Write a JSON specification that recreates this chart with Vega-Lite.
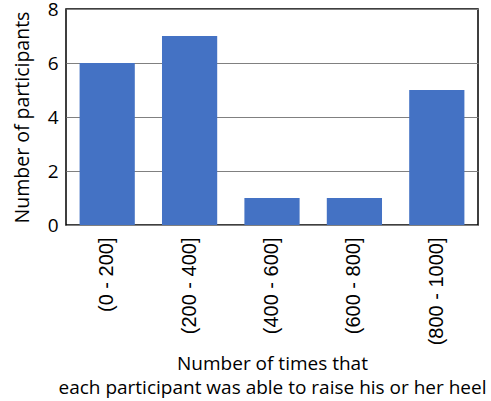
{
  "$schema": "https://vega.github.io/schema/vega-lite/v6.json",
  "autosize": {"type": "none"},
  "padding": {"left": 66, "top": 9, "right": 13, "bottom": 176},
  "width": 412,
  "height": 216,
  "background": "white",
  "config": {
    "view": {"stroke": "black", "strokeWidth": 1.5},
    "axis": {"labelColor": "black", "titleColor": "black", "titleFontWeight": "normal"}
  },
  "data": {
    "values": [
      {"range": "(0 - 200]", "count": 6},
      {"range": "(200 - 400]", "count": 7},
      {"range": "(400 - 600]", "count": 1},
      {"range": "(600 - 800]", "count": 1},
      {"range": "(800 - 1000]", "count": 5}
    ]
  },
  "mark": {"type": "bar", "color": "#4472C4"},
  "encoding": {
    "x": {
      "field": "range",
      "type": "nominal",
      "sort": null,
      "scale": {"paddingInner": 0.33, "paddingOuter": 0.165},
      "axis": {
        "title": ["Number of times that", "each participant was able to raise his or her heel"],
        "titleFont": "Open Sans",
        "titleFontSize": 19,
        "titleLineHeight": 23.5,
        "titlePadding": 10,
        "labelAngle": -90,
        "labelFont": "Liberation Sans",
        "labelFontSize": 20,
        "labelPadding": 12,
        "ticks": false,
        "domain": false
      }
    },
    "y": {
      "field": "count",
      "type": "quantitative",
      "scale": {"domain": [0, 8]},
      "axis": {
        "values": [0, 2, 4, 6, 8],
        "title": "Number of participants",
        "titleFont": "Open Sans",
        "titleFontSize": 19.5,
        "titlePadding": 15,
        "labelFont": "Open Sans",
        "labelFontSize": 19,
        "labelPadding": 8,
        "ticks": false,
        "domain": false,
        "grid": true,
        "gridColor": "#808080",
        "gridWidth": 1.2,
        "gridOpacity": 1
      }
    }
  }
}
